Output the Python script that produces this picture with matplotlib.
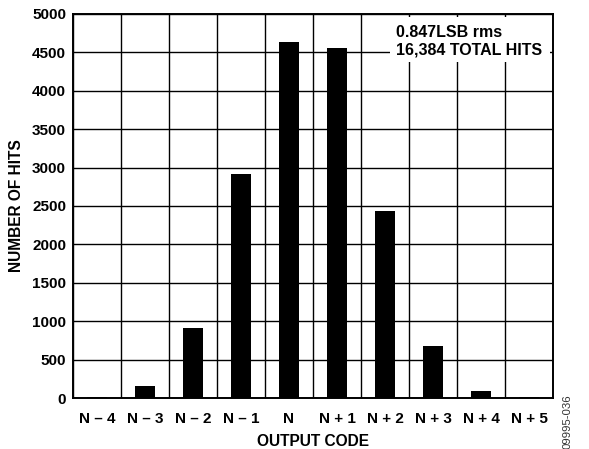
import numpy as np
import matplotlib.pyplot as plt
from matplotlib.patches import Rectangle

plt.rcParams['font.family'] = ['Liberation Sans', 'DejaVu Sans']
plt.rcParams['font.weight'] = 'bold'

codes = ['N – 4', 'N – 3', 'N – 2', 'N – 1', 'N', 'N + 1', 'N + 2', 'N + 3', 'N + 4', 'N + 5']
hits = [12, 151, 906, 2917, 4639, 4552, 2430, 677, 95, 10]

fig = plt.figure(figsize=(5.89, 4.49), dpi=100)
ax = fig.add_axes([73 / 589, 1 - 398 / 449, 480 / 589, 384 / 449])

x = np.arange(len(codes))
ax.bar(x, hits, width=0.4, color='black', zorder=3)

ax.set_xlim(-0.5, len(codes) - 0.5)
ax.set_ylim(0, 5000)
ax.set_xticks(x)
ax.set_xticklabels(codes)
ax.set_xticks(np.arange(-0.5, len(codes), 1), minor=True)
ax.set_yticks(np.arange(0, 5001, 500))
ax.tick_params(axis='both', which='both', length=0, labelsize=11, pad=5)
ax.tick_params(axis='x', which='major', pad=10)
ax.tick_params(axis='x', which='minor', labelbottom=False)
ax.grid(True, which='minor', axis='x', color='black', linewidth=1.0, zorder=1)
ax.grid(True, which='major', axis='y', color='black', linewidth=1.0, zorder=1)
ax.grid(False, which='major', axis='x')
for s in ax.spines.values():
    s.set_linewidth(1.4)
    s.set_zorder(6)

ax.set_xlabel('OUTPUT CODE', fontsize=11.2, fontweight='bold', labelpad=6)
ax.set_ylabel('NUMBER OF HITS', fontsize=11.2, fontweight='bold', labelpad=6)

# white box behind the note
ax.add_patch(Rectangle((0.660, 0.875), 0.334, 0.117, transform=ax.transAxes,
                       facecolor='white', edgecolor='none', zorder=4))
ax.text(0.673, 0.953, '0.847LSB rms', transform=ax.transAxes,
        ha='left', va='center', fontsize=11.5, fontweight='bold', zorder=5)
ax.text(0.673, 0.906, '16,384 TOTAL HITS', transform=ax.transAxes,
        ha='left', va='center', fontsize=11.5, fontweight='bold', zorder=5)

fig.text(0.963, 0.06, '09995-036', rotation=90, fontsize=8.2, fontweight='normal',
         ha='center', va='center', color='#333333')

fig.savefig('out.png', dpi=100)
